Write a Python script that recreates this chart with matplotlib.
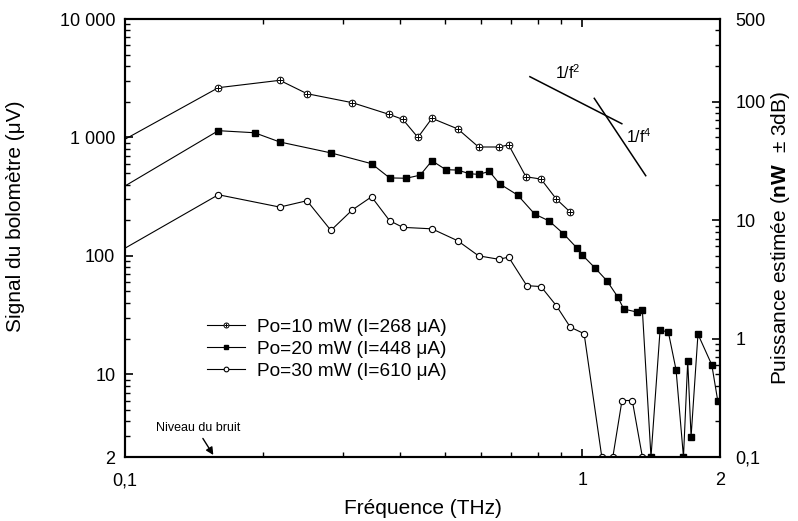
import matplotlib
matplotlib.use('Agg')
import matplotlib.pyplot as plt
from matplotlib.ticker import FixedLocator, NullFormatter, LogLocator

plt.rcParams['font.family'] = ['Liberation Sans', 'DejaVu Sans']
plt.rcParams['mathtext.fontset'] = 'custom'
plt.rcParams['mathtext.rm'] = 'Liberation Sans'
plt.rcParams['mathtext.bf'] = 'Liberation Sans:bold'
plt.rcParams['mathtext.it'] = 'Liberation Sans:italic'

# Po=10 mW (I=268 uA)
f_10 = [0.1, 0.16, 0.218, 0.250, 0.314, 0.378, 0.405, 0.437, 0.469, 0.534, 0.593,
        0.657, 0.690, 0.753, 0.812, 0.877, 0.941]
v_10 = [965, 2630, 3035, 2340, 1965, 1565, 1420, 1000, 1450, 1180, 830,
        830, 865, 465, 445, 302, 234]

# Po=20 mW (I=448 uA)
f_20 = [0.1, 0.16, 0.192, 0.218, 0.282, 0.346, 0.379, 0.412, 0.442, 0.469, 0.503,
        0.534, 0.566, 0.594, 0.626, 0.659, 0.722, 0.787, 0.846, 0.909, 0.972, 1.0,
        1.066, 1.132, 1.195, 1.232, 1.317, 1.353, 1.413, 1.479, 1.542, 1.603, 1.664,
        1.70, 1.729, 1.79, 1.919, 1.977]
v_20 = [389, 1140, 1095, 915, 740, 600, 455, 452, 480, 635, 534,
        530, 494, 487, 517, 406, 326, 225, 197, 154, 117, 101.5,
        79, 61.5, 45, 35.5, 33.5, 34.7, 2, 23.6, 22.7, 10.9, 2,
        12.9, 2.96, 21.8, 12, 6]

# Po=30 mW (I=610 uA)
f_30 = [0.1, 0.16, 0.218, 0.250, 0.282, 0.314, 0.346, 0.379, 0.405, 0.469, 0.534,
        0.593, 0.657, 0.690, 0.756, 0.812, 0.877, 0.941, 1.009, 1.103, 1.166,
        1.221, 1.286, 1.353]
v_30 = [116, 328, 258, 292, 164, 244, 315, 198, 174, 169, 134,
        100, 93.5, 97.5, 56, 55, 38, 25, 22, 2, 2,
        6, 6, 2]

labels = ['Po=10 mW (I=268 μA)', 'Po=20 mW (I=448 μA)', 'Po=30 mW (I=610 μA)']

# pentes de reference
f_pente2 = [0.768, 1.22]
v_pente2 = [3256, 1305]
f_pente4 = [1.062, 1.376]
v_pente4 = [2138, 475]

fig = plt.figure(figsize=(7.98, 5.21), dpi=100)
ax = fig.add_axes([125/798, 1-457/521, 595/798, 438/521])

lw = 0.8
ms = 4.5
every = slice(1, None)

l1o, = ax.plot(f_10, v_10, color='black', lw=lw, marker='o', ms=ms+0.3,
               mfc='white', mec='black', mew=0.7, markevery=every)
l1p, = ax.plot(f_10, v_10, color='none', lw=0, marker='+', ms=ms+0.3,
               mec='black', mew=0.7, markevery=every)
l2, = ax.plot(f_20, v_20, color='black', lw=lw, marker='s', ms=ms,
              mfc='black', mec='black', markevery=every)
l3, = ax.plot(f_30, v_30, color='black', lw=lw, marker='o', ms=ms,
              mfc='white', mec='black', mew=0.8, markevery=every)

ax.plot(f_pente2, v_pente2, color='black', lw=1.1)
ax.plot(f_pente4, v_pente4, color='black', lw=1.1)
ax.text(0.928, 3520, '1/f$^{2}$', fontsize=11.5, ha='center', va='center')
ax.text(1.33, 1008, '1/f$^{4}$', fontsize=11.5, ha='center', va='center')

ax.set_xscale('log')
ax.set_yscale('log')
ax.set_xlim(0.1, 2)
ax.set_ylim(2, 10000)

ax.set_xticks([0.1, 1, 2], labels=['0,1', '1', '2'])
ax.xaxis.set_minor_locator(FixedLocator([0.2, 0.3, 0.4, 0.5, 0.6, 0.7, 0.8, 0.9]))
ax.xaxis.set_minor_formatter(NullFormatter())
ax.set_yticks([2, 10, 100, 1000, 10000], labels=['2', '10', '100', '1 000', '10 000'])
ax.yaxis.set_minor_locator(LogLocator(base=10, subs=range(2, 10), numticks=20))
ax.yaxis.set_minor_formatter(NullFormatter())

ax.tick_params(which='both', direction='in', top=True, right=False, labelsize=13)
ax.tick_params(which='major', length=6, width=1.2, pad=7)
ax.tick_params(axis='x', which='major', pad=11)
ax.tick_params(which='minor', length=3.5, width=1.0)
for s in ax.spines.values():
    s.set_linewidth(1.5)

ax.set_xlabel('Fréquence (THz)', fontsize=15)
ax.xaxis.set_label_coords(0.5, -0.095)
ax.set_ylabel('Signal du bolomètre (μV)', fontsize=15)
ax.yaxis.set_label_coords(-0.168, 0.55)

ax2 = ax.twinx()
ax2.set_position(ax.get_position())
ax2.set_yscale('log')
ax2.set_ylim(0.1, 500)
ax2.set_yticks([0.1, 1, 10, 100, 500], labels=['0,1', '1', '10', '100', '500'])
ax2.yaxis.set_minor_locator(LogLocator(base=10, subs=range(2, 10), numticks=20))
ax2.yaxis.set_minor_formatter(NullFormatter())
ax2.tick_params(which='both', direction='in', labelsize=13)
ax2.tick_params(which='major', length=6, width=1.2, pad=11)
ax2.tick_params(which='minor', length=3.5, width=1.0)
ax2.set_ylabel(r'Puissance estimée ($\mathbf{nW}$  $\pm$ 3dB)', fontsize=15)
ax2.yaxis.set_label_coords(1.083, 0.5)
for s in ax2.spines.values():
    s.set_linewidth(1.5)

leg = ax.legend([(l1o, l1p), l2, l3], labels, loc='center left',
                bbox_to_anchor=(0.138, 0.2466), frameon=False, fontsize=13.7,
                handlelength=2.0, handletextpad=0.6, labelspacing=0.25,
                borderpad=0, borderaxespad=0, markerscale=0.75)

ax.text(0.1444, 3.51, 'Niveau du bruit', fontsize=9, ha='center', va='center')
ax.annotate('', xy=(0.156, 2.08), xytext=(0.148, 2.87),
            arrowprops=dict(arrowstyle='-|>', color='black', lw=1,
                            shrinkA=0, shrinkB=0, mutation_scale=11))

plt.savefig('out.png', dpi=100)
